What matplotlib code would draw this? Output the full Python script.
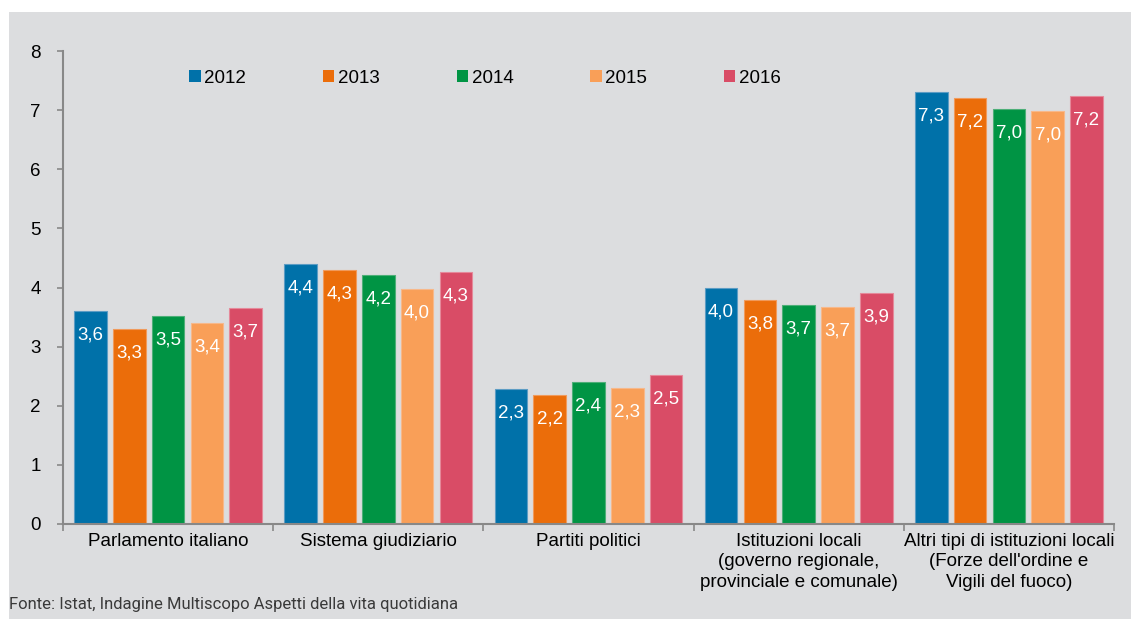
import numpy as np
import matplotlib
matplotlib.use('Agg')
import matplotlib.pyplot as plt
from matplotlib.patches import Rectangle

plt.rcParams['font.family'] = ['Liberation Sans', 'DejaVu Sans']

# Fiducia nelle istituzioni, punteggio medio 0-10
categorie = ['Parlamento italiano', 'Sistema giudiziario', 'Partiti politici',
             'Istituzioni locali\n(governo regionale,\nprovinciale e comunale)',
             "Altri tipi di istituzioni locali\n(Forze dell'ordine e\nVigili del fuoco)"]
anni = ['2012', '2013', '2014', '2015', '2016']
v2012 = [3.60, 4.40, 2.28, 3.99, 7.31]
v2013 = [3.30, 4.30, 2.18, 3.79, 7.20]
v2014 = [3.52, 4.21, 2.40, 3.70, 7.02]
v2015 = [3.40, 3.97, 2.30, 3.67, 6.98]
v2016 = [3.66, 4.26, 2.52, 3.91, 7.24]
serie = [v2012, v2013, v2014, v2015, v2016]

colori = ['#0071A9', '#EB6D0A', '#009444', '#F99F58', '#D94C66']
bordi = ['#5C9CC4', '#F09A5C', '#4DAF78', '#F7B88A', '#E5899A']
sfondo = '#DCDDDF'
fs = 13.5

fig = plt.figure(figsize=(11.31, 6.19), dpi=100, facecolor='white')
fig.patches.append(Rectangle((9 / 1131, 0), 1, 1 - 12 / 619, transform=fig.transFigure,
                             facecolor=sfondo, edgecolor='none', zorder=-10))
ax = fig.add_axes([63 / 1131, 1 - 524 / 619, (1114 - 63) / 1131, (524 - 51) / 619])
ax.set_facecolor(sfondo)

x = np.arange(len(categorie))
passo = 0.1846
larghezza = 0.155
for i, (vals, anno) in enumerate(zip(serie, anni)):
    pos = x + (i - 2) * passo
    barre = ax.bar(pos, vals, larghezza, color=colori[i], edgecolor=bordi[i],
                   linewidth=0.8, label=anno, zorder=2)
    for b, v in zip(barre, vals):
        ax.annotate(f'{v:.1f}'.replace('.', ','), (b.get_x() + b.get_width() / 2, v),
                    xytext=(0, -24), textcoords='offset pixels',
                    ha='center', va='center', color='white', fontsize=fs, zorder=3)

ax.set_ylim(0, 8)
ax.set_xlim(-0.5, len(categorie) - 0.5)
ax.set_yticks(range(0, 9))
ax.tick_params(axis='y', labelsize=fs, length=4, width=1.2, color='#888888', pad=12)
ax.set_xticks(np.arange(-0.5, len(categorie)))
ax.set_xticklabels([])
ax.tick_params(axis='x', length=5, width=1.2, color='#888888', direction='out')
for j, c in enumerate(categorie):
    ax.text(x[j], -0.15, c, ha='center', va='top', fontsize=fs, linespacing=1.27)

for s in ['top', 'right']:
    ax.spines[s].set_visible(False)
for s in ['left', 'bottom']:
    ax.spines[s].set_color('#888888')
    ax.spines[s].set_linewidth(1.5)

leg = ax.legend(loc='upper left', bbox_to_anchor=(0.113, 0.976), ncol=5, frameon=False,
                fontsize=fs, handlelength=0.6, handleheight=0.6, handletextpad=0.2,
                columnspacing=4.1, borderaxespad=0)
for h in leg.legend_handles:
    h.set_edgecolor('none')

fig.text(9 / 1131, 1 - 605 / 619, 'Fonte: Istat, Indagine Multiscopo Aspetti della vita quotidiana',
         ha='left', va='center', fontsize=12, color='#3A3A3A',
         family=['Roboto', 'DejaVu Sans'])

fig.savefig('out.png', dpi=100, facecolor='white')
